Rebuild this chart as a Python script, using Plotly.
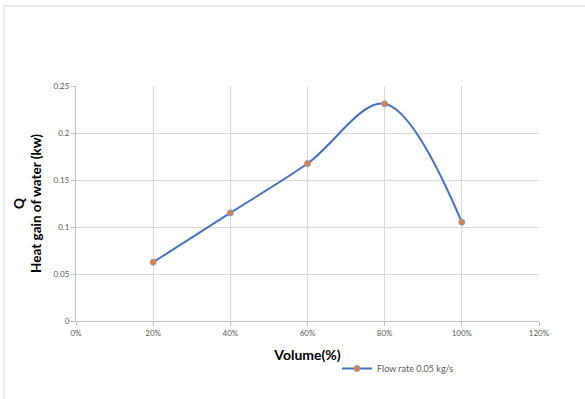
import plotly.graph_objects as go

volume = [0.2, 0.4, 0.6, 0.8, 1.0]
heat_gain = [0.0625, 0.115, 0.1675, 0.231, 0.105]
series_name = "Flow rate 0.05 kg/s"
x_ticks = [0, 0.2, 0.4, 0.6, 0.8, 1.0, 1.2]
x_tick_labels = ["0%", "20%", "40%", "60%", "80%", "100%", "120%"]
y_ticks = [0, 0.05, 0.1, 0.15, 0.2, 0.25]
y_tick_labels = ["0", "0.05", "0.1", "0.15", "0.2", "0.25"]

W, H = 585, 399
L, R, T, B = 76, 46, 86, 78
pw, ph = W - L - R, H - T - B

fig = go.Figure()
fig.add_trace(go.Scatter(
    x=volume, y=heat_gain, name=series_name, mode="lines+markers",
    line=dict(color="#4472C4", width=2, shape="spline", smoothing=1),
    marker=dict(color="#ED7D31", size=6, line=dict(color="#7F9FD6", width=1)),
))

axis_font = dict(family="Lato, Open Sans, sans-serif", size=8, color="#595959")

fig.update_layout(
    width=W, height=H,
    margin=dict(l=L, r=R, t=T, b=B),
    paper_bgcolor="white", plot_bgcolor="white",
    showlegend=True,
    legend=dict(orientation="h", x=(337 - L) / pw, y=(321 - 354) / ph,
                xanchor="left", yanchor="top",
                font=dict(family="Lato, Open Sans, sans-serif", size=9, color="#595959"),
                bgcolor="rgba(0,0,0,0)", itemwidth=30),
    xaxis=dict(range=[0, 1.2], tickvals=x_ticks, ticktext=x_tick_labels,
               showgrid=True, gridcolor="#D9D9D9", gridwidth=1,
               showline=True, linecolor="#BFBFBF", linewidth=1,
               ticks="outside", ticklen=4, tickcolor="#BFBFBF",
               tickfont=axis_font, zeroline=False,
               title=dict(text="<b>Volume(%)</b>", standoff=13,
                          font=dict(family="Lato, Open Sans, sans-serif", size=14, color="#000000"))),
    yaxis=dict(range=[0, 0.25], tickvals=y_ticks, ticktext=y_tick_labels,
               showgrid=True, gridcolor="#D9D9D9", gridwidth=1,
               showline=True, linecolor="#BFBFBF", linewidth=1,
               ticks="outside", ticklen=4, tickcolor="#BFBFBF",
               tickfont=axis_font, zeroline=False,
               title=dict(text="<b>Q<br>Heat gain of water (kw)</b>", standoff=8,
                          font=dict(family="Lato, Open Sans, sans-serif", size=13.5, color="#000000"))),
)

# chart-area border (left and top edges visible)
bx = (4 - L) / pw
by = (321 - 6) / ph
fig.add_shape(type="line", xref="paper", yref="paper", x0=bx, x1=bx, y0=-0.4, y1=by,
              line=dict(color="#D9D9D9", width=1))
fig.add_shape(type="line", xref="paper", yref="paper", x0=bx, x1=1.3, y0=by, y1=by,
              line=dict(color="#D9D9D9", width=1))

fig.write_html("out.html", config={"displayModeBar": False},
               post_script="document.body.style.margin='0';")
